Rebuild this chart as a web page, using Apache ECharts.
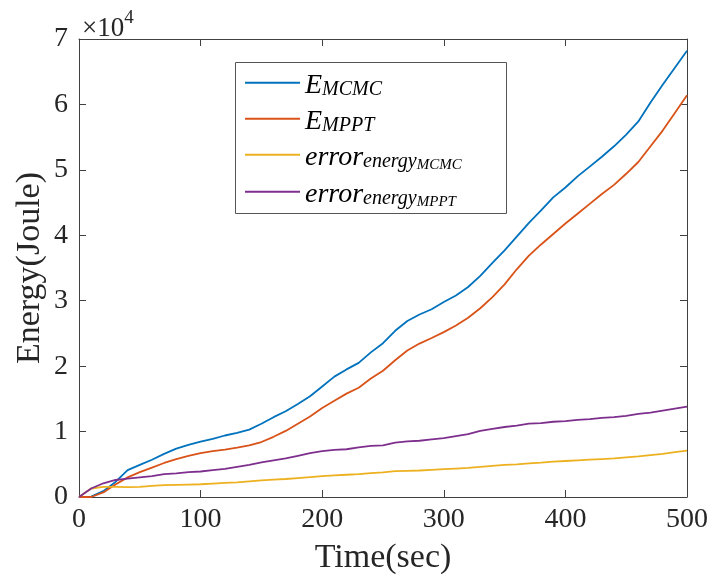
<!DOCTYPE html>
<html>
<head>
<meta charset="utf-8">
<script src="https://cdn.jsdelivr.net/npm/echarts@6/dist/echarts.min.js"></script>
<style>
html,body{margin:0;padding:0;background:#fff;}
#chart{width:711px;height:581px;}
</style>
</head>
<body>
<div id="chart"></div>
<script>
const times = [0,10,20,30,40,50,60,70,80,90,100,110,120,130,140,150,160,170,180,190,200,210,220,230,240,250,260,270,280,290,300,310,320,330,340,350,360,370,380,390,400,410,420,430,440,450,460,470,480,490,500];
const eMCMC = [0,50,900,2300,4100,4900,5700,6600,7400,7950,8450,8900,9400,9800,10300,11200,12200,13100,14200,15400,16900,18400,19500,20500,22100,23500,25400,26900,27900,28700,29800,30800,32100,33800,35800,37700,39800,41900,43800,45800,47300,49000,50500,52000,53600,55400,57400,60300,63000,65600,68200];
const eMPPT = [0,0,700,1900,3000,3800,4500,5200,5800,6300,6700,7000,7250,7550,7900,8400,9200,10100,11200,12300,13600,14700,15800,16700,18100,19300,20900,22400,23450,24300,25200,26200,27400,28850,30550,32500,34800,36900,38600,40200,41800,43300,44800,46300,47700,49400,51200,53600,56000,58700,61400];
const errMCMC = [0,1300,1550,1550,1500,1550,1700,1800,1850,1900,1950,2050,2150,2250,2400,2550,2650,2750,2900,3050,3200,3300,3400,3500,3650,3750,3950,4000,4050,4150,4250,4350,4450,4600,4750,4900,5000,5150,5250,5400,5500,5600,5700,5800,5900,6050,6200,6400,6600,6850,7100];
const errMPPT = [0,1300,2100,2600,2800,3000,3200,3500,3600,3800,3900,4100,4300,4600,4900,5300,5600,5900,6300,6700,7000,7200,7300,7600,7800,7900,8300,8500,8600,8800,9000,9300,9600,10100,10400,10700,10900,11200,11300,11500,11600,11800,11900,12100,12200,12400,12700,12900,13200,13500,13800];
const seriesNames = ['E_MCMC','E_MPPT','error_energy_MCMC','error_energy_MPPT'];
const seriesValues = [eMCMC, eMPPT, errMCMC, errMPPT];
const colors = ['#0072BD','#D95319','#EDB120','#7E2F8E'];
const legendRich = {
  'E_MCMC': '{m|E}{s|MCMC}',
  'E_MPPT': '{m|E}{s|MPPT}',
  'error_energy_MCMC': '{m|error}{s|energy}{ss|MCMC}',
  'error_energy_MPPT': '{m|error}{s|energy}{ss|MPPT}'
};
const xTicks = {min:0, max:500, interval:100};
const yTicks = {min:0, max:70000, interval:10000};

const serif = 'Liberation Serif, Times New Roman, serif';
const axisCol = '#404040';
const chart = echarts.init(document.getElementById('chart'), null, {renderer:'canvas'});
const option = {
  animation: false,
  backgroundColor: '#fff',
  title: {
    text: '{a|×10}{b|4}',
    left: 77, top: 4,
    textStyle: {
      fontWeight: 'normal',
      rich: {
        a: {fontFamily: serif, fontWeight: 'normal', fontSize: 27, color: '#262626', verticalAlign: 'top', padding: [6,0,0,0], lineHeight: 30},
        b: {fontFamily: serif, fontWeight: 'normal', fontSize: 19, color: '#262626', verticalAlign: 'top', padding: [0,0,0,0], lineHeight: 30}
      }
    }
  },
  grid: {left: 79, right: 24, top: 39, bottom: 84, containLabel: false},
  legend: {
    orient: 'vertical',
    left: 235, top: 64, z: 10,
    padding: [0, 0, 0, 10],
    itemGap: 0,
    itemWidth: 55,
    itemHeight: 2,
    icon: 'rect',
    data: seriesNames,
    formatter: function(name){ return legendRich[name]; },
    textStyle: {
      color: '#000',
      rich: {
        m: {fontFamily: serif, fontStyle: 'italic', fontSize: 28, verticalAlign: 'top', padding: [8,0,0,0], lineHeight: 37.6},
        s: {fontFamily: serif, fontStyle: 'italic', fontSize: 20, verticalAlign: 'top', padding: [16,0,0,0], lineHeight: 37.6},
        ss: {fontFamily: serif, fontStyle: 'italic', fontSize: 15, verticalAlign: 'top', padding: [22,0,0,0], lineHeight: 37.6}
      }
    }
  },
  graphic: [{
    type: 'rect', left: 235, top: 62, z: 3,
    shape: {width: 271, height: 151},
    style: {fill: '#fff', stroke: '#555', lineWidth: 1}
  }],
  xAxis: [{
    type: 'value', min: xTicks.min, max: xTicks.max, interval: xTicks.interval,
    name: 'Time(sec)', nameLocation: 'middle', nameGap: 44, nameMoveOverlap: false,
    nameTextStyle: {fontFamily: serif, fontSize: 34, color: '#262626'},
    axisLine: {show: true, onZero: false, lineStyle: {color: axisCol, width: 1}},
    axisTick: {show: true, inside: true, length: 7, lineStyle: {color: axisCol}},
    axisLabel: {fontFamily: serif, fontSize: 28, color: '#262626', margin: 9},
    splitLine: {show: false}
  },{
    type: 'value', position: 'top', min: xTicks.min, max: xTicks.max, interval: xTicks.interval,
    axisLine: {show: true, onZero: false, lineStyle: {color: axisCol, width: 1}},
    axisTick: {show: true, inside: true, length: 7, lineStyle: {color: axisCol}},
    axisLabel: {show: false}, splitLine: {show: false}
  }],
  yAxis: [{
    type: 'value', min: yTicks.min, max: yTicks.max, interval: yTicks.interval,
    name: 'Energy(Joule)', nameLocation: 'middle', nameGap: 32, nameMoveOverlap: false,
    nameTextStyle: {fontFamily: serif, fontSize: 34, color: '#262626'},
    axisLine: {show: true, onZero: false, lineStyle: {color: axisCol, width: 1}},
    axisTick: {show: true, inside: true, length: 7, lineStyle: {color: axisCol}},
    axisLabel: {fontFamily: serif, fontSize: 28, color: '#262626', margin: 11,
      formatter: function(v){ return String(v/10000); }},
    splitLine: {show: false}
  },{
    type: 'value', position: 'right', min: yTicks.min, max: yTicks.max, interval: yTicks.interval,
    axisLine: {show: true, onZero: false, lineStyle: {color: axisCol, width: 1}},
    axisTick: {show: true, inside: true, length: 7, lineStyle: {color: axisCol}},
    axisLabel: {show: false}, splitLine: {show: false}
  }],
  series: seriesNames.map(function(n, i){
    return {
      name: n, type: 'line', showSymbol: false, symbol: 'none',
      xAxisIndex: 0, yAxisIndex: 0,
      lineStyle: {width: 1.8, color: colors[i]},
      itemStyle: {color: colors[i]},
      data: times.map(function(t, k){ return [t, seriesValues[i][k]]; })
    };
  })
};
chart.setOption(option);
</script>
</body>
</html>
